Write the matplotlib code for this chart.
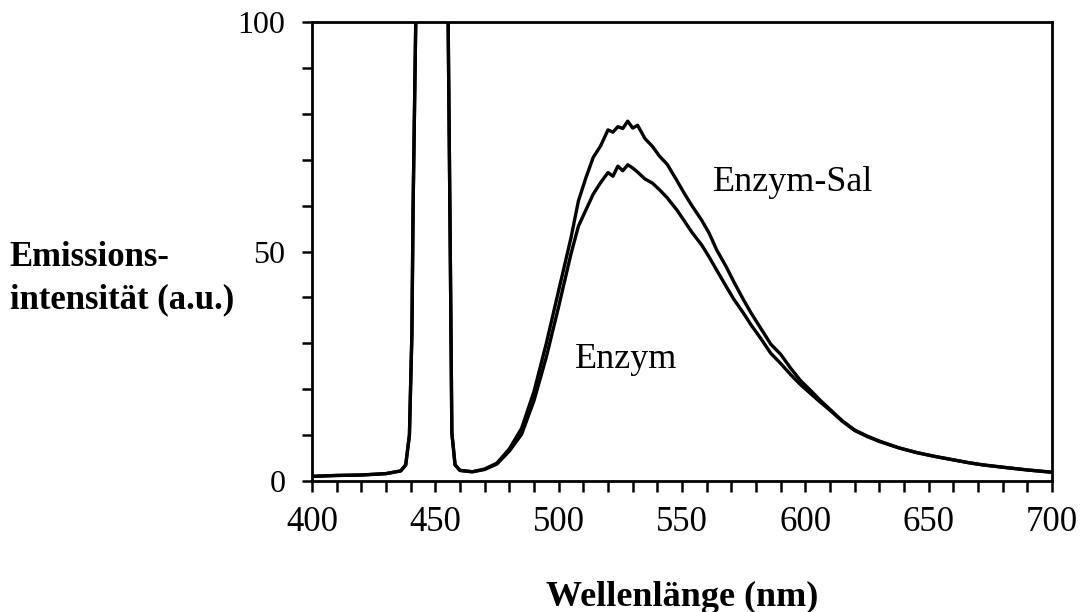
import matplotlib
matplotlib.use("Agg")
import matplotlib.pyplot as plt
from matplotlib.ticker import MultipleLocator

# emission spectra (wavelength in nm, intensity in a.u.)
wl = [400, 410, 420, 430, 436, 438, 439.5, 440.5, 441, 442.2,
      444, 449, 454, 455.2, 456, 456.7, 458, 460, 465, 470,
      475, 480, 485, 490, 495, 500, 505, 508, 511, 514,
      517, 520, 522, 524, 526, 528, 530, 532, 535, 538,
      541, 544, 548, 551, 554, 558, 561, 564, 568, 571,
      575, 578, 582, 586, 590, 594, 598, 602, 606, 610,
      615, 620, 625, 630, 638, 645, 652, 660, 666, 672,
      680, 690, 700]

enzym_sal = [1.0, 1.2, 1.3, 1.6, 2.2, 3.5, 10, 32, 60, 105,
             160, 220, 160, 100, 54, 10.5, 3.5, 2.3, 2.0, 2.6,
             3.9, 7.0, 11.5, 19.5, 30.0, 41.5, 53.0, 61.0, 66.0, 70.5,
             73.0, 76.5, 76.0, 77.2, 76.8, 78.4, 76.9, 77.5, 74.6, 72.9,
             70.7, 69.0, 65.4, 62.6, 60.0, 56.8, 54.0, 50.4, 46.6, 43.4,
             39.4, 36.6, 33.2, 29.8, 27.6, 24.6, 21.9, 19.8, 17.6, 15.6,
             13.1, 11.1, 9.8, 8.7, 7.2, 6.2, 5.4, 4.6, 4.0, 3.5,
             3.0, 2.4, 1.9]

enzym = [1.0, 1.2, 1.3, 1.6, 2.2, 3.5, 10, 32, 60, 105,
         160, 220, 160, 100, 54, 10.5, 3.5, 2.3, 2.0, 2.5,
         3.7, 6.5, 10.2, 17.5, 27.0, 38.0, 49.5, 55.5, 59.0, 62.5,
         65.0, 67.2, 66.4, 68.6, 67.6, 68.9, 68.2, 67.3, 65.8, 64.9,
         63.4, 61.7, 59.0, 56.6, 54.2, 51.4, 48.8, 46.0, 42.3, 39.6,
         36.5, 34.0, 31.0, 27.8, 25.6, 23.2, 21.0, 19.1, 17.2, 15.4,
         13.0, 11.0, 9.7, 8.6, 7.2, 6.2, 5.4, 4.6, 4.0, 3.5,
         3.0, 2.4, 1.9]

plt.rcParams["font.family"] = ["Liberation Serif", "DejaVu Serif"]

fig = plt.figure(figsize=(10.81, 6.12), dpi=100)
ax = fig.add_axes([0.2886, 0.2141, 0.6846, 0.7499])

ax.plot(wl, enzym_sal, color="black", linewidth=2.4)
ax.plot(wl, enzym, color="black", linewidth=2.4)

ax.set_xlim(400, 700)
ax.set_ylim(0, 100)

ax.xaxis.set_major_locator(MultipleLocator(50))
ax.xaxis.set_minor_locator(MultipleLocator(10))
ax.yaxis.set_major_locator(MultipleLocator(50))
ax.yaxis.set_minor_locator(MultipleLocator(10))

for side in ax.spines.values():
    side.set_linewidth(2.0)

ax.tick_params(axis="x", which="both", direction="out", length=8,
               width=1.8, labelsize=25, pad=10)
ax.tick_params(axis="y", which="both", direction="out", length=7,
               width=1.8, labelsize=23, pad=12)

ax.text(562.5, 65, "Enzym-Sal", fontsize=26, va="center", ha="left")
ax.text(506.5, 26.5, "Enzym", fontsize=26, va="center", ha="left")

fig.text(0.631, 0.0245, "Wellenlänge (nm)", fontsize=26, fontweight="bold",
         ha="center", va="center")
fig.text(0.009, 0.545, "Emissions-\nintensität (a.u.)", fontsize=25,
         fontweight="bold", ha="left", va="center", linespacing=1.35)

fig.savefig("out.png", dpi=100)
